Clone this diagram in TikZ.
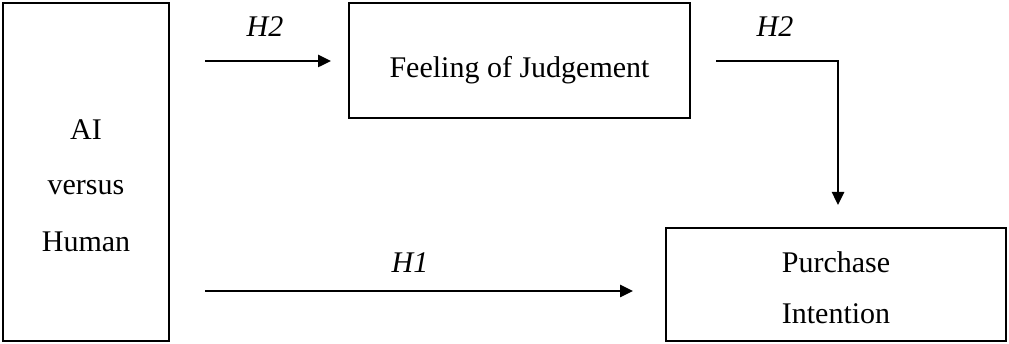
\documentclass[tikz,border=0pt]{standalone}
\usepackage{fontspec}
\setmainfont{Liberation Serif}
\usetikzlibrary{arrows.meta}
\begin{document}
\begin{tikzpicture}[x=1pt,y=-1pt,
  box/.style={draw,line width=2.5pt,inner sep=0pt},
  txt/.style={anchor=base,inner sep=0pt,font=\fontsize{30}{36}\selectfont},
  lbl/.style={anchor=base,inner sep=0pt,font=\fontsize{30}{36}\selectfont\itshape},
  arr/.style={line width=2.5pt,-{Triangle[length=13pt,width=12pt]}}]
\useasboundingbox (0,0) rectangle (1009,344);
\node[box,minimum width=166pt,minimum height=338pt] (ai) at (86,172) {};
\node[box,minimum width=341pt,minimum height=115pt] (fj) at (519.5,60.5) {};
\node[box,minimum width=340pt,minimum height=113pt] (pi) at (836,284.5) {};
\node[txt] (t1) at (86,140) {AI};
\node[txt] (t2) at (86,195) {versus};
\node[txt] (t3) at (86,252) {Human};
\node[txt] (t4) at (519.5,78) {Feeling of Judgement};
\node[txt] (t5) at (836,273) {Purchase};
\node[txt] (t6) at (836,324) {Intention};
\coordinate (a1s) at (205,61);
\coordinate (a1e) at (331,61);
\coordinate (a2s) at (716,61);
\coordinate (a2e) at (838,205);
\coordinate (a3s) at (205,291);
\coordinate (a3e) at (633,291);
\draw[arr] (a1s) -- (a1e);
\draw[arr] (a2s) -| (a2e);
\draw[arr] (a3s) -- (a3e);
\node[lbl] (h2a) at (265,37) {H2};
\node[lbl] (h2b) at (775,37) {H2};
\node[lbl] (h1) at (410,273) {H1};
\end{tikzpicture}
\end{document}
